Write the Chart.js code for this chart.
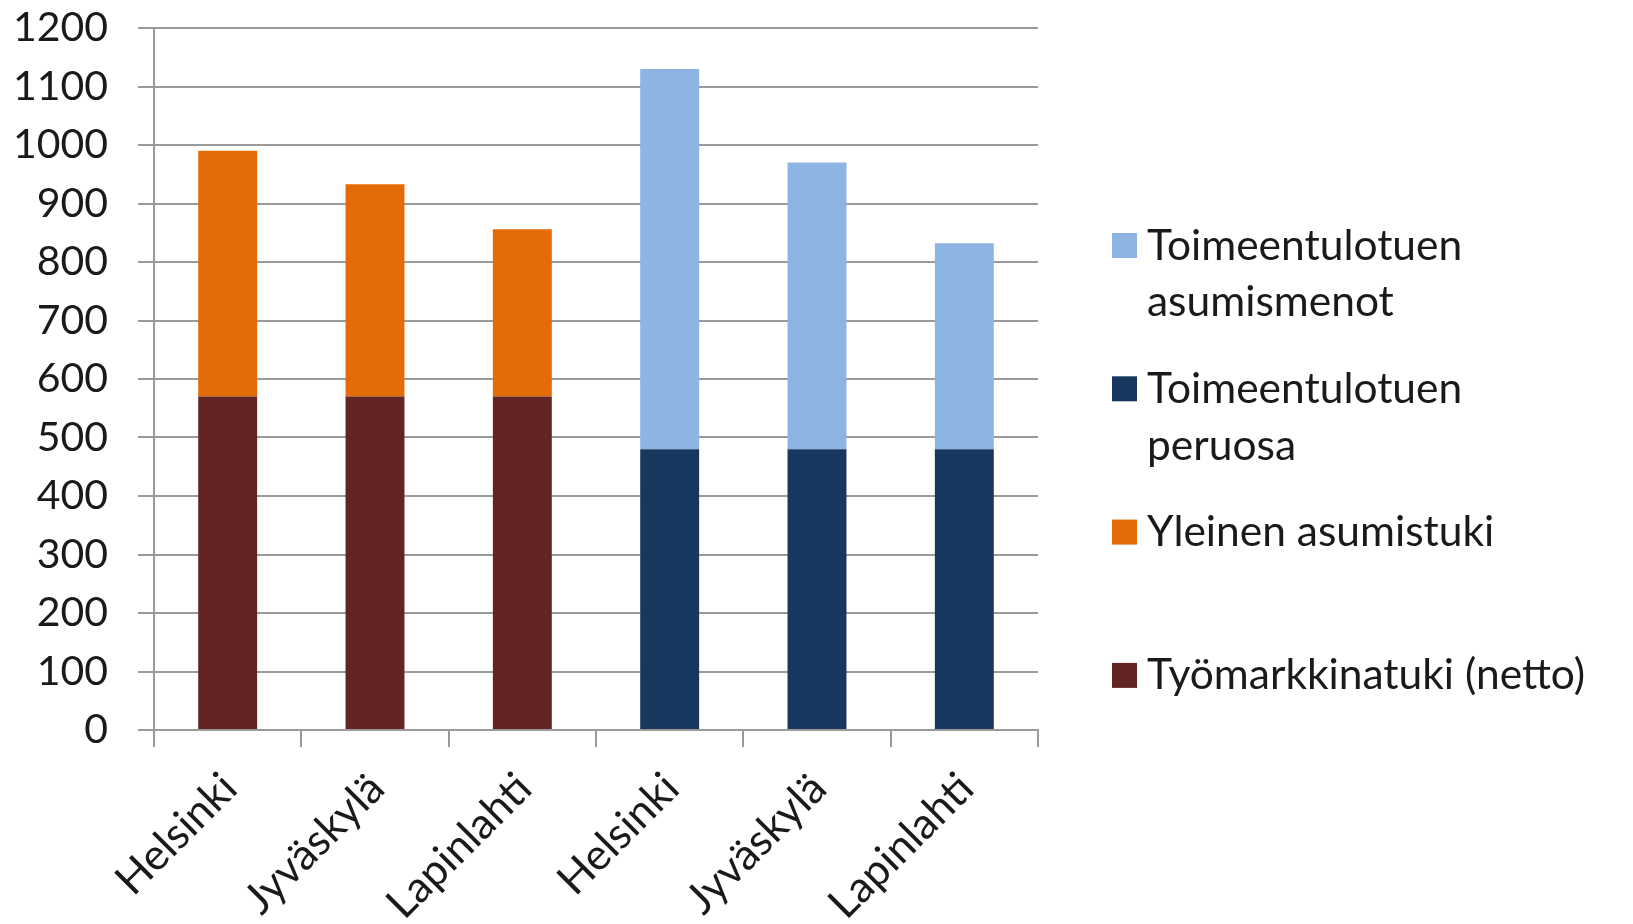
<!DOCTYPE html>
<html>
<head>
<meta charset="utf-8">
<script src="https://cdn.jsdelivr.net/npm/chart.js@4/dist/chart.umd.min.js"></script>
<style>
  html, body { margin: 0; padding: 0; background: #fff; }
  #wrap { width: 1633px; height: 924px; position: relative; }
</style>
</head>
<body>
<div id="wrap"><canvas id="kuvio"></canvas></div>
<script>
'use strict';

// kategoriat (kaksi ryhmää: työmarkkinatuki + asumistuki / toimeentulotuki)
var kunnat = ['Helsinki', 'Jyväskylä', 'Lapinlahti', 'Helsinki', 'Jyväskylä', 'Lapinlahti'];

// sarjat, €/kk
var tyomarkkinatuki = [570, 570, 570, null, null, null];
var asumistuki      = [420, 363, 286, null, null, null];
var ttPeruosa       = [null, null, null, 480, 480, 480];
var ttAsumismenot   = [null, null, null, 650, 490, 352];

var yTicks = [0, 100, 200, 300, 400, 500, 600, 700, 800, 900, 1000, 1100, 1200];

var selitteet = [
  ['Työmarkkinatuki (netto)'],
  ['Yleinen asumistuki'],
  ['Toimeentulotuen', 'peruosa'],
  ['Toimeentulotuen', 'asumismenot']
];

var FONTTI = 'Lato, "Noto Sans", sans-serif';
var HARMAA = '#9a9a9a';

// oma selite oikealle, ylin sarja ylimpänä
var seliteLiitannainen = {
  id: 'omaSelite',
  afterDraw: function (chart) {
    var ctx = chart.ctx;
    var sarjat = chart.data.datasets;
    var x = 1112, y0 = 245.5, vali = 143.3, koko = 25;
    ctx.save();
    ctx.font = '42.5px ' + FONTTI;
    ctx.textBaseline = 'alphabetic';
    ctx.textAlign = 'left';
    for (var i = sarjat.length - 1, n = 0; i >= 0; i--, n++) {
      var cy = y0 + n * vali;
      ctx.fillStyle = sarjat[i].backgroundColor;
      ctx.fillRect(x, cy - koko / 2, koko, koko);
      ctx.fillStyle = '#1a1a1a';
      var rivit = sarjat[i].selite;
      for (var r = 0; r < rivit.length; r++) {
        ctx.fillText(rivit[r], x + 35, cy + 14 + r * 56.7);
      }
    }
    ctx.restore();
  }
};

new Chart(document.getElementById('kuvio'), {
  type: 'bar',
  data: {
    labels: kunnat,
    datasets: [
      { label: selitteet[0][0], selite: selitteet[0], data: tyomarkkinatuki, backgroundColor: '#632523' },
      { label: selitteet[1][0], selite: selitteet[1], data: asumistuki, backgroundColor: '#E36C09' },
      { label: selitteet[2].join(' '), selite: selitteet[2], data: ttPeruosa, backgroundColor: '#17375E' },
      { label: selitteet[3].join(' '), selite: selitteet[3], data: ttAsumismenot, backgroundColor: '#8EB4E3' }
    ]
  },
  options: {
    responsive: true,
    maintainAspectRatio: false,
    animation: false,
    categoryPercentage: 1,
    barPercentage: 0.4,
    layout: { padding: { left: 0, right: 595, top: 0, bottom: 0 } },
    plugins: {
      legend: { display: false },
      tooltip: { enabled: false }
    },
    scales: {
      x: {
        stacked: true,
        grid: { offset: true, drawOnChartArea: false, drawTicks: true, tickLength: 17, color: HARMAA, lineWidth: 2 },
        border: { color: HARMAA, width: 2 },
        ticks: { color: '#1a1a1a', font: { family: FONTTI, size: 43 }, minRotation: 45, maxRotation: 45, padding: 16, labelOffset: 2, autoSkip: false },
        afterFit: function (s) { s.height = 194; }
      },
      y: {
        stacked: true,
        min: 0,
        max: 1200,
        afterBuildTicks: function (s) { s.ticks = yTicks.map(function (v) { return { value: v }; }); },
        grid: { color: HARMAA, lineWidth: 2, tickLength: 16 },
        border: { color: HARMAA, width: 2 },
        ticks: { color: '#1a1a1a', font: { family: FONTTI, size: 41 }, padding: 30, callback: function (v) { return String(v); } },
        afterFit: function (s) { s.width = 154; s.paddingTop = 28; s.paddingBottom = 0; }
      }
    }
  },
  plugins: [seliteLiitannainen]
});
</script>
</body>
</html>
